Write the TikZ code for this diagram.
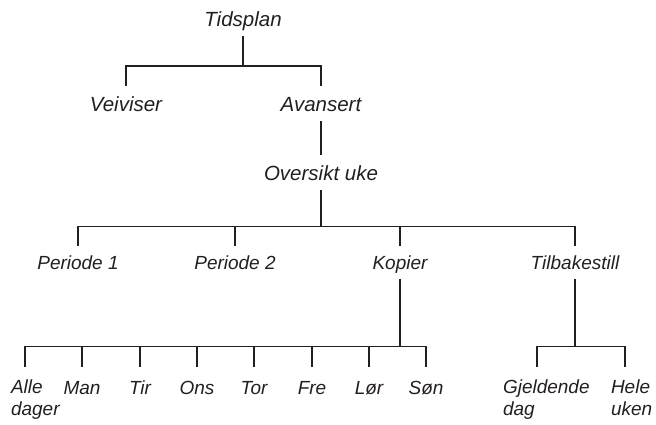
\documentclass[tikz,border=0pt]{standalone}
\usepackage{fontspec}
\setmainfont{Liberation Sans}
\definecolor{ink}{HTML}{231F20}

\begin{document}
\begin{tikzpicture}[x=1pt,y=-1pt,line width=1.5pt,draw=ink,
  big/.style={font=\fontsize{20.5}{24}\selectfont\itshape,text=ink,anchor=base,
    inner xsep=0pt,inner ysep=10pt,outer sep=0pt,text height=15pt,text depth=0pt},
  small/.style={font=\fontsize{19}{21.5}\selectfont\itshape,text=ink,anchor=base,
    inner xsep=0pt,inner ysep=10pt,outer sep=0pt,text height=13pt,text depth=0pt},
  day/.style={small,inner ysep=14pt},
  twoline/.style={font=\fontsize{19}{21.5}\selectfont\itshape,text=ink,align=left,
    anchor=north west,inner xsep=0pt,inner ysep=13pt,outer sep=0pt}]
  \useasboundingbox (0,0) rectangle (656,424);

  \node[big] (tids) at (243,26) {Tidsplan};
  \node[big] (veiv) at (126,111) {Veiviser};
  \node[big] (avan) at (321,111) {Avansert};
  \node[big] (over) at (321,180) {Oversikt uke};

  \node[small] (per1) at (78,269) {Periode 1};
  \node[small] (per2) at (235,269) {Periode 2};
  \node[small] (kopi) at (400,269) {Kopier};
  \node[small] (tilb) at (575,269) {Tilbakestill};

  \node[twoline] (alle) at (11,367) {Alle\\dager};
  \node[day] (man) at (82,394) {Man};
  \node[day] (tir) at (140,394) {Tir};
  \node[day] (ons) at (197,394) {Ons};
  \node[day] (tor) at (254,394) {Tor};
  \node[day] (fre) at (312,394) {Fre};
  \node[day] (lor) at (369,394) {Lør};
  \node[day] (son) at (426,394) {Søn};

  \node[twoline] (gjel) at (503,367) {Gjeldende\\dag};
  \node[twoline] (hele) at (611,367) {Hele\\uken};

  \coordinate (b1) at (243,66);
  \coordinate (b2) at (321,226.5);
  \coordinate (b3) at (400,346.5);
  \coordinate (b4) at (575,346.5);
  \coordinate (alleb) at (25,346.5);
  \coordinate (gjelb) at (537,346.5);
  \coordinate (heleb) at (625,346.5);

  \draw (tids.south) -- (b1);
  \draw (veiv.north) |- (b1) -| (avan.north);
  \draw (avan.south) -- (over.north);

  \draw (over.south) -- (b2);
  \draw (per1.north) |- (b2) -| (tilb.north);
  \draw (per2.north) -- (per2.north |- b2);
  \draw (kopi.north) -- (kopi.north |- b2);

  \draw (kopi.south) -- (b3);
  \draw (alleb |- alle.north) -- (alleb) -- (b3 -| son.north) -- (son.north);
  \draw (man.north) -- (man.north |- b3);
  \draw (tir.north) -- (tir.north |- b3);
  \draw (ons.north) -- (ons.north |- b3);
  \draw (tor.north) -- (tor.north |- b3);
  \draw (fre.north) -- (fre.north |- b3);
  \draw (lor.north) -- (lor.north |- b3);

  \draw (tilb.south) -- (b4);
  \draw (gjelb |- gjel.north) -- (gjelb) -- (heleb) -- (heleb |- hele.north);
\end{tikzpicture}
\end{document}
